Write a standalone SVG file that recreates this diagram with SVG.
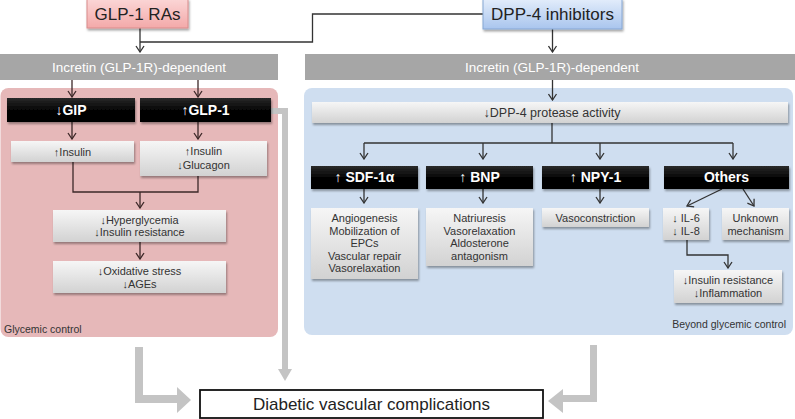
<svg xmlns="http://www.w3.org/2000/svg" width="795" height="419" viewBox="0 0 795 419">
<defs>
<linearGradient id="gGray" x1="0" y1="0" x2="0" y2="1"><stop offset="0" stop-color="#f6f6f6"/><stop offset="1" stop-color="#d2d2d2"/></linearGradient>
<linearGradient id="gBlack" x1="0" y1="0" x2="0" y2="1"><stop offset="0" stop-color="#2a2a2a"/><stop offset="0.5" stop-color="#050505"/><stop offset="1" stop-color="#000"/></linearGradient>
<linearGradient id="gPink" x1="0" y1="0" x2="0" y2="1"><stop offset="0" stop-color="#fbd6d6"/><stop offset="1" stop-color="#f3a9a9"/></linearGradient>
<linearGradient id="gBlue" x1="0" y1="0" x2="0" y2="1"><stop offset="0" stop-color="#e3edfb"/><stop offset="1" stop-color="#a9c5ee"/></linearGradient>
<filter id="sh" x="-10%" y="-20%" width="120%" height="150%"><feDropShadow dx="1" dy="2" stdDeviation="1" flood-color="#000" flood-opacity="0.35"/></filter>
<marker id="ah" viewBox="-8 -5 9 10" refX="0" refY="0" markerWidth="9" markerHeight="10" markerUnits="userSpaceOnUse" orient="auto"><path d="M-6,-4 L0,0 L-6,4" fill="none" stroke="#333" stroke-width="1.3"/></marker>
<marker id="ahL" viewBox="-8 -5 9 10" refX="0" refY="0" markerWidth="9" markerHeight="10" markerUnits="userSpaceOnUse" orient="auto"><path d="M-6,-4 L0,0 L-6,4" fill="none" stroke="#3d2828" stroke-width="1.3"/></marker>
</defs>
<style>
text{font-family:"Liberation Sans",Arial,sans-serif;}
.t{font-size:17px;fill:#222;text-anchor:middle;}
.inc{font-size:13.5px;fill:#fff;text-anchor:middle;}
.blk{font-size:14px;font-weight:bold;fill:#fff;text-anchor:middle;}
.s{font-size:11px;fill:#333;text-anchor:middle;}
.lab{font-size:10.5px;fill:#333;}
.gb{fill:url(#gGray);filter:url(#sh);}
.bb{fill:url(#gBlack);filter:url(#sh);}
.ln{fill:none;stroke:#333;stroke-width:1.3;}
.lnL{fill:none;stroke:#3d2828;stroke-width:1.3;}
.big{fill:none;stroke:#c4c4c4;}
</style>

<!-- panels -->
<g id="panel-glycemic">
<rect x="0.5" y="88" width="277.5" height="249" rx="8" fill="#e6b8b9"/>
<text class="lab" x="4" y="333">Glycemic control</text>
</g>
<g id="panel-beyond">
<rect x="304" y="88" width="489" height="247" rx="8" fill="#cfdef0"/>
<text class="lab" x="786" y="328" text-anchor="end">Beyond glycemic control</text>
</g>

<!-- connectors -->
<g id="connectors">
<path class="ln" d="M140,28 V52" marker-end="url(#ah)"/>
<path class="ln" d="M483,14 H312.5 V42 H140"/>
<path class="ln" d="M552.5,29 V52" marker-end="url(#ah)"/>
<path class="lnL" d="M72,80 V97" marker-end="url(#ahL)"/>
<path class="lnL" d="M198,80 V97" marker-end="url(#ahL)"/>
<path class="lnL" d="M72,122 V139" marker-end="url(#ahL)"/>
<path class="lnL" d="M198,122 V139" marker-end="url(#ahL)"/>
<path class="lnL" d="M73,162 V192 H198 V176"/>
<path class="lnL" d="M140,192 V208" marker-end="url(#ahL)"/>
<path class="lnL" d="M140,242 V259" marker-end="url(#ahL)"/>
<path class="ln" d="M552.5,80 V100" marker-end="url(#ah)"/>
<path class="ln" d="M552,123 V143"/>
<path class="ln" d="M364,143 H733"/>
<path class="ln" d="M364,143 V159" marker-end="url(#ah)"/>
<path class="ln" d="M483,143 V159" marker-end="url(#ah)"/>
<path class="ln" d="M600,143 V159" marker-end="url(#ah)"/>
<path class="ln" d="M733,143 V159" marker-end="url(#ah)"/>
<path class="ln" d="M364,189 V203" marker-end="url(#ah)"/>
<path class="ln" d="M483,189 V203" marker-end="url(#ah)"/>
<path class="ln" d="M600,189 V203" marker-end="url(#ah)"/>
<path class="ln" d="M722,189 L687,206" marker-end="url(#ah)"/>
<path class="ln" d="M743,189 L754,206" marker-end="url(#ah)"/>
<path class="ln" d="M687,240 V255 H728 V268" marker-end="url(#ah)"/>
<path class="big" stroke-width="6" d="M271,111 H285 V370"/>
<polygon points="278,369 292,369 285,381" fill="#c4c4c4"/>
<path class="big" stroke-width="8" d="M139,347 V399 H179"/>
<polygon points="177,387 191,400 177,413" fill="#c4c4c4"/>
<path class="big" stroke-width="7" d="M593.5,345 V398.5 H561"/>
<polygon points="563,389 548,401 563,413" fill="#c4c4c4"/>
</g>

<!-- top drugs -->
<g id="glp1-ras">
<rect x="87" y="-1" width="101" height="29" fill="url(#gPink)" stroke="#d98c8c" stroke-width="1" filter="url(#sh)"/>
<text class="t" x="137.5" y="20">GLP-1 RAs</text>
</g>
<g id="dpp4-inhibitors">
<rect x="483" y="-1" width="139" height="30" fill="url(#gBlue)" stroke="#86a7d4" stroke-width="1" filter="url(#sh)"/>
<text class="t" x="552.5" y="20">DPP-4 inhibitors</text>
</g>

<g id="incretin-left">
<rect x="0" y="54" width="278" height="26" fill="#a6a6a6"/>
<text class="inc" x="139" y="72">Incretin (GLP-1R)-dependent</text>
</g>
<g id="incretin-right">
<rect x="305" y="54" width="490" height="26" fill="#a6a6a6"/>
<text class="inc" x="552" y="72">Incretin (GLP-1R)-dependent</text>
</g>

<!-- left nodes -->
<g id="gip"><rect class="bb" x="7" y="98" width="128" height="24"/><text class="blk" x="71" y="115">↓GIP</text></g>
<g id="glp1"><rect class="bb" x="140" y="98" width="131" height="24"/><text class="blk" x="205.5" y="115">↑GLP-1</text></g>
<g id="insulin"><rect class="gb" x="11" y="141" width="123" height="21"/><text class="s" x="72.5" y="156">↑Insulin</text></g>
<g id="insulin-glucagon"><rect class="gb" x="140" y="141" width="127" height="35"/><text class="s" x="203.5" y="155">↑Insulin</text><text class="s" x="203.5" y="169">↓Glucagon</text></g>
<g id="hyperglycemia"><rect class="gb" x="53" y="210" width="173" height="32"/><text class="s" x="139.5" y="224">↓Hyperglycemia</text><text class="s" x="139.5" y="236">↓Insulin resistance</text></g>
<g id="oxidative"><rect class="gb" x="53" y="261" width="173" height="32"/><text class="s" x="139.5" y="275">↓Oxidative stress</text><text class="s" x="139.5" y="288">↓AGEs</text></g>

<!-- right nodes -->
<g id="dpp4-activity"><rect class="gb" x="312" y="102" width="476" height="21"/><text class="s" x="552" y="117" style="font-size:12.5px">↓DPP-4 protease activity</text></g>
<g id="sdf1a"><rect class="bb" x="311" y="166" width="107" height="23"/><text class="blk" x="364.5" y="182">↑ SDF-1α</text></g>
<g id="bnp"><rect class="bb" x="426" y="166" width="107" height="23"/><text class="blk" x="479.5" y="182">↑ BNP</text></g>
<g id="npy1"><rect class="bb" x="542" y="166" width="107" height="23"/><text class="blk" x="595.5" y="182">↑ NPY-1</text></g>
<g id="others"><rect class="bb" x="664" y="166" width="125" height="23"/><text class="blk" x="726.5" y="182">Others</text></g>
<g id="sdf-effects"><rect class="gb" x="311" y="208" width="107" height="71"/>
<text class="s" x="364.5" y="222">Angiogenesis</text><text class="s" x="364.5" y="235">Mobilization of</text><text class="s" x="364.5" y="247">EPCs</text><text class="s" x="364.5" y="260">Vascular repair</text><text class="s" x="364.5" y="272">Vasorelaxation</text></g>
<g id="bnp-effects"><rect class="gb" x="426" y="208" width="107" height="58"/>
<text class="s" x="479.5" y="222">Natriuresis</text><text class="s" x="479.5" y="235">Vasorelaxation</text><text class="s" x="479.5" y="247">Aldosterone</text><text class="s" x="479.5" y="260">antagonism</text></g>
<g id="npy-effects"><rect class="gb" x="542" y="208" width="107" height="19"/><text class="s" x="595.5" y="222">Vasoconstriction</text></g>
<g id="il"><rect class="gb" x="663" y="208" width="46" height="32"/><text class="s" x="686" y="222">↓ IL-6</text><text class="s" x="686" y="235">↓ IL-8</text></g>
<g id="unknown"><rect class="gb" x="722" y="208" width="67" height="32"/><text class="s" x="755.5" y="222">Unknown</text><text class="s" x="755.5" y="235">mechanism</text></g>
<g id="ir-inflammation"><rect class="gb" x="674" y="270" width="108" height="33"/><text class="s" x="728" y="284">↓Insulin resistance</text><text class="s" x="728" y="297">↓Inflammation</text></g>

<g id="complications">
<rect x="200" y="390" width="343" height="28" fill="#fff" stroke="#111" stroke-width="1.8"/>
<text class="t" x="371.5" y="410">Diabetic vascular complications</text>
</g>
</svg>
